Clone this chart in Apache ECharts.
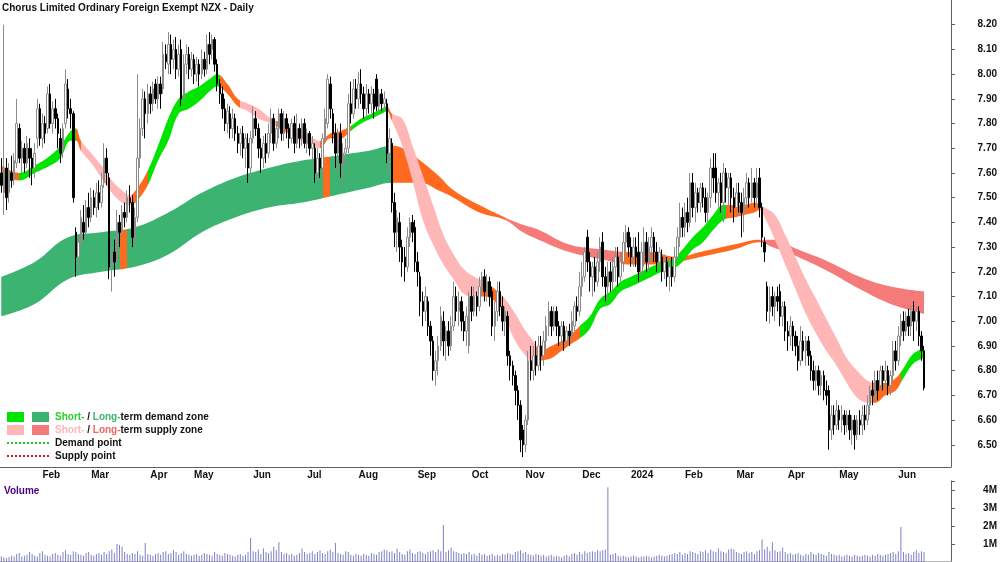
<!DOCTYPE html>
<html>
<head>
<meta charset="utf-8">
<script src="https://cdn.jsdelivr.net/npm/echarts@6/dist/echarts.min.js"></script>
<style>
html, body { margin: 0; padding: 0; background: #fff; }
#chart { width: 1000px; height: 562px; }
</style>
</head>
<body>
<div id="chart"></div>
<script>
// trading calendar (NZX), weekdays minus exchange holidays
const firstDay = '2023-01-10';
const lastDay = '2024-06-18';
const holidays = ['2023-02-06', '2023-04-07', '2023-04-10', '2023-04-25', '2023-06-05', '2023-07-14',
  '2023-10-23', '2023-12-25', '2023-12-26', '2024-01-01', '2024-01-02', '2024-02-06', '2024-03-29',
  '2024-04-01', '2024-04-25', '2024-06-03'];
const emptySlots = 10; // blank space right of the last bar
const monthNames = ['Jan', 'Feb', 'Mar', 'Apr', 'May', 'Jun', 'Jul', 'Aug', 'Sep', 'Oct', 'Nov', 'Dec'];

// daily bars: [open, close, low, high]
const ohlc = [
  [7.60,7.55,7.52,7.66],[7.52,7.62,7.43,8.20],[7.62,7.50,7.45,7.66],[7.52,7.60,7.48,7.64],[7.60,7.57,7.54,7.67],
  [7.58,7.65,7.55,7.68],[7.64,7.80,7.62,7.90],[7.78,7.66,7.64,7.80],[7.66,7.70,7.60,7.73],[7.70,7.64,7.60,7.72],
  [7.64,7.72,7.62,7.75],[7.70,7.66,7.58,7.74],[7.66,7.62,7.55,7.70],[7.62,7.68,7.58,7.72],[7.74,7.86,7.70,7.90],
  [7.86,7.74,7.71,7.88],[7.74,7.80,7.70,7.84],[7.80,7.76,7.72,7.83],[7.78,7.92,7.76,7.95],[7.92,7.80,7.78,7.96],
  [7.80,7.86,7.76,7.89],[7.86,7.82,7.78,7.90],[7.82,7.76,7.70,7.84],[7.74,7.68,7.64,7.78],[7.70,7.78,7.66,7.80],
  [7.80,7.96,7.78,8.02],[7.94,7.86,7.82,7.98],[7.86,7.84,7.78,7.90],[7.84,7.50,7.48,7.85],[7.36,7.26,7.18,7.38],
  [7.26,7.32,7.20,7.35],[7.32,7.42,7.30,7.45],[7.40,7.36,7.33,7.47],[7.36,7.46,7.34,7.49],[7.46,7.42,7.38,7.52],
  [7.42,7.50,7.40,7.54],[7.50,7.46,7.43,7.53],[7.46,7.52,7.42,7.56],[7.52,7.48,7.45,7.57],[7.48,7.55,7.46,7.60],
  [7.56,7.66,7.54,7.72],[7.66,7.60,7.55,7.70],[7.58,7.22,7.17,7.60],[7.22,7.28,7.12,7.32],[7.28,7.24,7.18,7.33],
  [7.25,7.40,7.22,7.45],[7.40,7.36,7.30,7.43],[7.36,7.44,7.34,7.47],[7.44,7.42,7.38,7.48],[7.42,7.50,7.40,7.53],
  [7.50,7.48,7.44,7.55],[7.48,7.34,7.30,7.51],[7.34,7.42,7.30,7.46],[7.42,7.66,7.40,8.00],[7.66,7.78,7.62,7.82],
  [7.78,7.90,7.75,7.94],[7.90,7.84,7.74,7.93],[7.84,7.92,7.80,7.96],[7.92,7.88,7.84,7.95],[7.88,7.94,7.85,7.97],
  [7.96,7.90,7.88,7.98],[7.90,7.96,7.86,7.99],[7.96,7.92,7.86,7.99],[7.94,8.08,7.92,8.13],[8.08,8.05,8.02,8.12],
  [8.04,8.12,8.00,8.17],[8.12,8.06,8.00,8.16],[8.06,8.10,8.02,8.14],[8.10,8.02,7.98,8.15],[8.02,8.08,7.99,8.12],
  [8.10,7.90,7.87,8.14],[7.90,8.04,7.88,8.08],[8.04,8.08,8.00,8.12],[8.08,8.02,7.98,8.11],[8.02,8.06,7.99,8.09],
  [8.06,8.00,7.96,8.08],[8.00,8.04,7.97,8.07],[8.04,8.00,7.95,8.06],[8.00,8.06,7.98,8.10],[8.06,8.02,7.99,8.09],
  [8.02,8.12,8.00,8.16],[8.12,8.08,8.04,8.17],[8.10,8.14,8.06,8.16],[8.14,8.04,8.01,8.15],[8.04,7.96,7.93,8.06],
  [7.96,7.92,7.88,7.98],[7.92,7.86,7.82,7.95],[7.86,7.80,7.77,7.90],[7.80,7.85,7.76,7.88],[7.84,7.78,7.74,7.87],
  [7.78,7.82,7.74,7.86],[7.82,7.76,7.73,7.84],[7.76,7.72,7.68,7.79],[7.72,7.76,7.67,7.78],[7.76,7.70,7.66,7.79],
  [7.70,7.74,7.62,7.76],[7.72,7.62,7.56,7.76],[7.62,7.74,7.58,7.77],[7.74,7.82,7.72,7.87],[7.82,7.78,7.75,7.85],
  [7.78,7.70,7.66,7.80],[7.70,7.66,7.60,7.74],[7.66,7.72,7.62,7.75],[7.72,7.68,7.64,7.76],[7.68,7.76,7.66,7.80],
  [7.76,7.82,7.72,7.86],[7.82,7.72,7.69,7.84],[7.72,7.78,7.70,7.81],[7.78,7.84,7.74,7.86],[7.84,7.76,7.73,7.86],
  [7.76,7.82,7.73,7.85],[7.82,7.78,7.74,7.84],[7.78,7.74,7.70,7.80],[7.74,7.80,7.72,7.82],[7.80,7.72,7.68,7.83],
  [7.72,7.78,7.70,7.84],[7.78,7.74,7.70,7.80],[7.74,7.80,7.71,7.82],[7.80,7.72,7.70,7.82],[7.72,7.76,7.68,7.78],
  [7.76,7.70,7.67,7.77],[7.70,7.72,7.64,7.75],[7.70,7.60,7.56,7.72],[7.60,7.66,7.56,7.70],[7.66,7.62,7.58,7.68],
  [7.62,7.74,7.60,7.76],[7.74,7.82,7.72,7.86],[7.80,7.98,7.78,8.00],[7.96,7.86,7.82,7.99],[7.84,7.76,7.72,7.86],
  [7.76,7.68,7.62,7.80],[7.68,7.74,7.60,7.78],[7.76,7.64,7.58,7.80],[7.64,7.68,7.55,7.72],[7.68,7.70,7.63,7.74],
  [7.70,7.88,7.68,7.92],[7.88,7.84,7.80,7.97],[7.84,7.94,7.82,7.98],[7.94,7.90,7.86,7.98],[7.90,7.96,7.86,8.01],
  [7.96,7.92,7.88,8.02],[7.92,7.86,7.82,7.95],[7.86,7.92,7.82,7.96],[7.92,7.88,7.84,7.94],[7.88,7.92,7.84,7.95],
  [7.92,7.86,7.82,7.94],[7.98,7.87,7.85,8.00],[7.87,7.92,7.84,7.94],[7.92,7.88,7.85,7.94],[7.88,7.90,7.85,7.93],
  [7.88,7.68,7.64,7.90],[7.68,7.74,7.60,7.78],[7.72,7.48,7.44,7.74],[7.48,7.36,7.30,7.52],[7.36,7.42,7.28,7.45],
  [7.40,7.30,7.24,7.44],[7.30,7.24,7.18,7.33],[7.26,7.22,7.16,7.30],[7.22,7.34,7.20,7.38],[7.34,7.40,7.30,7.42],
  [7.40,7.36,7.32,7.43],[7.38,7.24,7.20,7.41],[7.24,7.20,7.14,7.28],[7.18,7.08,7.02,7.20],[7.08,7.04,6.98,7.12],
  [7.04,7.10,7.00,7.14],[7.08,6.98,6.94,7.10],[6.98,6.92,6.86,7.00],[6.92,6.80,6.76,6.94],[6.80,6.84,6.74,6.88],
  [6.84,6.90,6.78,6.94],[6.90,7.02,6.88,7.06],[7.00,6.92,6.86,7.04],[6.92,6.96,6.84,6.98],[6.96,6.90,6.86,7.00],
  [6.90,6.98,6.88,7.02],[6.98,7.10,6.96,7.16],[7.10,7.04,7.00,7.14],[7.04,7.08,6.98,7.12],[7.08,7.00,6.96,7.10],
  [7.00,6.96,6.92,7.04],[6.96,7.02,6.90,7.06],[6.90,7.10,6.87,7.12],[7.10,7.04,7.00,7.14],[7.04,7.10,7.02,7.14],
  [7.10,7.06,7.02,7.12],[7.06,7.14,7.04,7.18],[7.14,7.18,7.10,7.20],[7.18,7.12,7.08,7.21],[7.12,7.16,7.08,7.19],
  [7.16,7.10,7.06,7.18],[7.12,6.98,6.94,7.14],[6.98,7.04,6.92,7.08],[7.04,7.12,7.00,7.16],[7.12,7.06,7.02,7.16],
  [7.06,7.00,6.96,7.10],[7.00,7.04,6.94,7.06],[7.02,6.86,6.82,7.04],[6.86,6.82,6.76,6.88],[6.82,6.78,6.74,6.84],
  [6.78,6.72,6.66,6.80],[6.72,6.66,6.60,6.74],[6.66,6.52,6.47,6.68],[6.56,6.50,6.45,6.58],[6.50,6.60,6.47,6.62],
  [6.60,6.84,6.58,6.88],[6.84,6.80,6.76,6.90],[6.80,6.86,6.76,6.90],[6.86,6.82,6.78,6.92],[6.82,6.90,6.80,6.94],
  [6.90,6.86,6.80,6.94],[6.86,6.92,6.82,6.96],[6.92,6.98,6.88,7.02],[6.98,7.04,6.94,7.08],[7.04,6.98,6.94,7.06],
  [6.98,7.04,6.96,7.06],[7.04,6.98,6.94,7.06],[6.98,6.94,6.90,7.00],[6.94,6.98,6.90,7.00],[6.98,6.92,6.88,7.00],
  [6.92,6.96,6.90,6.98],[6.96,6.94,6.90,6.99],[6.94,7.00,6.92,7.04],[6.98,7.06,6.96,7.08],[7.06,7.04,7.00,7.10],
  [7.04,7.14,7.02,7.20],[7.14,7.18,7.10,7.24],[7.18,7.28,7.16,7.30],[7.34,7.24,7.20,7.37],[7.24,7.18,7.12,7.28],
  [7.18,7.22,7.10,7.24],[7.22,7.16,7.12,7.26],[7.16,7.24,7.14,7.28],[7.24,7.30,7.20,7.34],[7.32,7.18,7.14,7.36],
  [7.18,7.14,7.08,7.22],[7.14,7.20,7.08,7.24],[7.20,7.16,7.12,7.24],[7.16,7.22,7.12,7.26],[7.22,7.26,7.16,7.30],
  [7.26,7.18,7.14,7.30],[7.18,7.24,7.16,7.28],[7.24,7.32,7.20,7.36],[7.32,7.36,7.28,7.39],[7.36,7.30,7.26,7.38],
  [7.30,7.26,7.22,7.34],[7.26,7.30,7.22,7.34],[7.30,7.26,7.22,7.34],[7.28,7.20,7.16,7.36],[7.20,7.28,7.18,7.32],
  [7.28,7.32,7.22,7.38],[7.32,7.24,7.20,7.36],[7.24,7.30,7.20,7.34],[7.30,7.34,7.24,7.38],[7.34,7.28,7.24,7.36],
  [7.28,7.24,7.20,7.32],[7.24,7.28,7.22,7.30],[7.26,7.20,7.16,7.29],[7.20,7.24,7.17,7.27],[7.24,7.18,7.14,7.26],
  [7.18,7.22,7.12,7.25],[7.22,7.18,7.14,7.26],[7.18,7.26,7.16,7.30],[7.26,7.34,7.24,7.38],[7.34,7.42,7.30,7.48],
  [7.42,7.38,7.34,7.46],[7.38,7.44,7.34,7.48],[7.44,7.40,7.36,7.50],[7.40,7.56,7.38,7.60],[7.56,7.46,7.42,7.60],
  [7.46,7.52,7.40,7.56],[7.52,7.48,7.44,7.54],[7.48,7.54,7.44,7.56],[7.54,7.50,7.46,7.56],[7.50,7.44,7.40,7.54],
  [7.44,7.50,7.40,7.52],[7.50,7.62,7.46,7.66],[7.62,7.58,7.52,7.68],[7.62,7.52,7.48,7.68],[7.52,7.56,7.46,7.58],
  [7.56,7.48,7.44,7.60],[7.48,7.60,7.40,7.64],[7.60,7.54,7.48,7.62],[7.54,7.58,7.46,7.60],[7.58,7.50,7.44,7.60],
  [7.50,7.46,7.40,7.54],[7.46,7.52,7.42,7.56],[7.52,7.48,7.44,7.56],[7.48,7.44,7.34,7.52],[7.44,7.50,7.36,7.54],
  [7.50,7.56,7.46,7.60],[7.56,7.50,7.46,7.58],[7.50,7.56,7.48,7.62],[7.56,7.50,7.46,7.58],[7.50,7.56,7.46,7.62],
  [7.58,7.46,7.42,7.62],[7.46,7.34,7.30,7.48],[7.32,7.28,7.24,7.34],[7.14,7.04,7.00,7.16],[7.04,7.10,6.99,7.14],
  [7.10,7.06,7.02,7.14],[7.06,7.10,7.00,7.12],[7.10,7.08,7.04,7.14],[7.12,7.02,6.98,7.15],[7.02,7.06,6.98,7.08],
  [7.06,6.96,6.92,7.08],[6.96,6.94,6.88,7.00],[6.94,6.98,6.90,7.02],[6.98,6.94,6.88,7.00],[6.94,6.90,6.86,6.96],
  [6.90,6.84,6.80,6.94],[6.84,6.92,6.82,6.98],[6.92,6.88,6.84,6.96],[6.88,6.92,6.82,6.94],[6.92,6.86,6.82,6.94],
  [6.86,6.80,6.76,6.88],[6.80,6.76,6.72,6.84],[6.76,6.80,6.72,6.82],[6.80,6.74,6.70,6.82],[6.74,6.78,6.70,6.80],
  [6.78,6.72,6.68,6.80],[6.72,6.70,6.66,6.76],[6.72,6.56,6.48,6.74],[6.56,6.62,6.52,6.66],[6.62,6.58,6.54,6.66],
  [6.58,6.64,6.56,6.68],[6.64,6.60,6.56,6.66],[6.60,6.62,6.55,6.66],[6.62,6.58,6.54,6.64],[6.58,6.62,6.55,6.64],
  [6.62,6.56,6.52,6.64],[6.56,6.60,6.50,6.62],[6.60,6.54,6.48,6.62],[6.54,6.60,6.52,6.62],[6.60,6.58,6.54,6.64],
  [6.58,6.62,6.54,6.66],[6.62,6.60,6.56,6.66],[6.60,6.66,6.58,6.70],[6.66,6.72,6.62,6.74],[6.72,6.70,6.66,6.76],
  [6.70,6.76,6.68,6.80],[6.76,6.72,6.68,6.80],[6.74,6.80,6.72,6.82],[6.80,6.76,6.72,6.82],[6.76,6.80,6.72,6.84],
  [6.80,6.74,6.70,6.82],[6.74,6.78,6.70,6.80],[6.78,6.88,6.76,6.92],[6.88,6.84,6.80,6.92],[6.84,6.94,6.82,6.98],
  [6.94,7.00,6.90,7.03],[7.00,6.96,6.92,7.04],[6.96,7.02,6.94,7.04],[7.02,6.98,6.94,7.05],[6.98,7.04,6.94,7.06],
  [7.04,7.00,6.92,7.08],[7.00,7.04,6.96,7.06],[7.04,6.94,6.90,7.06],[6.94,6.88,6.84,6.96],[6.88,6.73,6.72,6.90]
];

// daily volume, millions of shares
const volume = [
  0.30,0.25,0.22,0.28,0.35,0.30,0.45,0.50,0.30,0.35, 0.40,0.55,0.45,0.35,0.30,0.50,0.60,0.40,0.35,0.30,
  0.45,0.50,0.40,0.35,0.55,0.65,0.45,0.40,0.60,0.55, 0.45,0.40,0.35,0.50,0.55,0.40,0.35,0.45,0.50,0.40,
  0.55,0.45,0.60,0.70,0.50,1.00,0.95,0.85,0.55,0.45, 0.40,0.50,0.45,0.60,0.40,0.35,1.05,0.45,0.40,0.35,
  0.45,0.50,0.40,0.55,0.60,0.45,0.50,0.65,0.55,0.40, 0.50,0.60,0.45,0.40,0.35,0.40,0.45,0.35,0.40,0.50,
  0.45,0.40,0.35,0.55,0.45,0.40,0.35,0.50,0.45,0.40, 0.35,0.30,0.40,0.45,0.35,0.40,0.55,1.33,0.60,0.55,
  0.70,0.45,0.75,0.55,0.50,0.60,0.85,0.65,1.10,0.55, 0.45,0.50,0.40,0.45,0.35,0.40,0.50,0.75,0.55,0.45,
  0.50,0.60,0.45,0.55,0.65,0.50,0.45,0.60,0.70,0.55, 1.05,0.50,0.45,0.40,0.60,0.55,0.40,0.35,0.45,0.40,
  0.35,0.45,0.40,0.35,0.50,0.45,0.40,0.55,0.60,0.70, 0.65,0.55,0.60,0.50,0.75,0.55,0.45,0.40,0.60,0.70,
  0.50,0.45,0.55,0.60,0.50,0.45,0.55,0.60,0.65,0.55, 0.70,0.60,2.05,0.55,0.65,0.80,0.60,0.55,0.50,0.45,
  0.50,0.45,0.55,0.40,0.45,0.35,0.50,0.40,0.45,0.35, 0.40,0.45,0.35,0.40,0.35,0.45,0.40,0.50,0.45,0.40,
  0.55,0.60,0.65,0.50,0.55,0.45,0.40,0.35,0.45,0.40, 0.35,0.40,0.30,0.35,0.40,0.30,0.35,0.30,0.25,0.35,
  0.40,0.30,0.45,0.50,0.40,0.55,0.45,0.60,0.50,0.55, 0.60,0.55,0.65,0.60,0.65,0.70,4.15,0.40,0.45,0.50,
  0.35,0.30,0.35,0.30,0.25,0.30,0.35,0.30,0.25,0.30, 0.30,0.35,0.30,0.25,0.30,0.35,0.40,0.35,0.30,0.35,
  0.40,0.45,0.50,0.45,0.55,0.40,0.50,0.45,0.60,0.55, 0.50,0.45,0.60,0.55,0.65,0.50,0.70,0.60,0.55,0.75,
  0.60,0.55,0.50,0.70,0.75,0.70,0.55,0.50,0.45,0.55, 0.60,0.50,0.55,0.45,0.60,0.65,1.25,0.70,0.85,0.60,
  1.10,0.65,0.55,0.60,0.80,0.55,0.45,0.50,0.40,0.45, 0.50,0.40,0.35,0.45,0.40,0.55,0.45,0.40,0.50,0.45,
  0.40,0.35,0.55,0.45,0.40,0.35,0.40,0.30,0.35,0.40, 0.35,0.30,0.40,0.35,0.30,0.35,0.40,0.35,0.30,0.40,
  0.35,0.45,0.40,0.35,0.40,0.45,0.50,0.55,0.45,0.60, 1.95,0.55,0.45,0.50,0.40,0.55,0.65,0.50,0.60,0.55
];

// short-term zone band, read at sample days
const shortDay = [0,7,13,19,23,27,29,31,35,39,43,47,50,53,57,61,65,69,73,77,81,84,88,92,96,100,105,110,115,120,
  124,128,132,136,140,144,148,150,152,156,160,164,168,172,176,180,184,188,192,196,200,204,207,210,214,218,222,225,
  229,233,237,241,245,249,253,257,261,265,269,273,277,281,285,289,293,295,297,301,305,309,313,317,321,325,329,333,
  337,340,344,348,351,355,359];
const shortUpper = [7.63,7.60,7.63,7.67,7.71,7.77,7.78,7.73,7.68,7.63,7.57,7.53,7.51,7.54,7.61,7.71,7.82,7.90,7.93,
  7.95,7.98,8.00,7.96,7.90,7.88,7.86,7.82,7.80,7.78,7.75,7.73,7.76,7.77,7.79,7.82,7.84,7.86,7.87,7.84,7.82,7.71,
  7.59,7.47,7.35,7.27,7.21,7.18,7.16,7.13,7.09,7.03,6.96,6.92,6.88,6.90,6.92,6.95,6.98,7.02,7.09,7.12,7.16,7.18,
  7.20,7.22,7.24,7.25,7.29,7.34,7.38,7.43,7.47,7.47,7.47,7.48,7.47,7.46,7.43,7.35,7.26,7.17,7.09,7.01,6.93,6.85,
  6.80,6.76,6.75,6.75,6.77,6.81,6.87,6.89];
const shortLower = [7.58,7.57,7.60,7.63,7.66,7.73,7.73,7.69,7.64,7.58,7.52,7.48,7.47,7.49,7.55,7.65,7.73,7.84,7.86,
  7.89,7.93,7.95,7.92,7.87,7.85,7.82,7.80,7.77,7.74,7.71,7.70,7.74,7.74,7.77,7.80,7.82,7.84,7.85,7.81,7.71,7.57,
  7.41,7.31,7.23,7.17,7.11,7.10,7.10,7.08,7.01,6.92,6.86,6.83,6.84,6.85,6.88,6.91,6.93,6.97,7.05,7.07,7.12,7.14,
  7.16,7.18,7.20,7.21,7.24,7.29,7.32,7.37,7.41,7.42,7.43,7.44,7.45,7.42,7.33,7.23,7.13,7.03,6.95,6.88,6.82,6.75,
  6.69,6.67,6.67,6.70,6.72,6.77,6.83,6.85];

// long-term zone band, read at sample days
const longDay = [0,13,26,39,52,65,78,91,104,117,130,143,152,158,163,170,176,186,196,203,209,221,234,244,252,263,
  272,285,295,300,310,322,334,346,359];
const longUpper = [7.18,7.24,7.34,7.36,7.38,7.44,7.52,7.58,7.62,7.65,7.67,7.69,7.71,7.69,7.65,7.59,7.53,7.47,7.42,
  7.39,7.37,7.31,7.29,7.28,7.28,7.26,7.28,7.31,7.33,7.33,7.29,7.24,7.18,7.14,7.12];
const longLower = [7.02,7.07,7.17,7.20,7.22,7.27,7.36,7.42,7.46,7.48,7.51,7.54,7.56,7.56,7.56,7.53,7.50,7.44,7.41,
  7.36,7.33,7.28,7.25,7.23,7.23,7.24,7.26,7.29,7.32,7.30,7.26,7.20,7.13,7.07,7.03];

// zone state from a given day on
const shortZones = [[0,'turn'],[7,'demand'],[28.5,'turn'],[31,'supply'],[50.5,'turn'],[57,'demand'],[84.5,'turn'],
  [93,'supply'],[107,'turn'],[112,'supply'],[124,'turn'],[136,'demand'],[149.5,'turn'],[151.5,'supply'],[187,'turn'],
  [194,'supply'],[208,'turn'],[224.5,'demand'],[282,'turn'],[295,'supply'],[339,'turn'],[350,'demand']];
const longZones = [[0,'demand'],[45.5,'turn'],[48.5,'demand'],[124.5,'turn'],[127.5,'demand'],[152,'turn'],
  [196,'supply'],[241,'turn'],[295,'supply']];

const shortColors = { demand: '#00e400', supply: '#ffb6b6', turn: '#ff6a1e' };
const longColors = { demand: '#3cb371', supply: '#f57a7a', turn: '#ff6a1e' };

// build category axis
const dates = [];
const d = new Date(firstDay + 'T00:00:00Z');
const end = new Date(lastDay + 'T00:00:00Z');
while (d <= end) {
  const s = d.toISOString().slice(0, 10);
  const wd = d.getUTCDay();
  if (wd !== 0 && wd !== 6 && holidays.indexOf(s) < 0) dates.push(s);
  d.setUTCDate(d.getUTCDate() + 1);
}
for (let i = 0; i < emptySlots; i++) dates.push('');

const monthStart = dates.map((s, i) => i > 0 && s !== '' && s.slice(0, 7) !== dates[i - 1].slice(0, 7));
const isMonthStart = (index) => monthStart[index];

const pairs = (days, vals) => days.map((day, i) => [day, vals[i]]);
const diffs = (days, up, lo) => days.map((day, i) => [day, +(up[i] - lo[i]).toFixed(3)]);
const pieces = (zones, colors) => zones.map((z, i) => ({
  gte: z[0], lt: i + 1 < zones.length ? zones[i + 1][0] : 10000, color: colors[z[1]]
}));

const bandSeries = (name, stack, days, up, lo) => [
  {
    name: name + 'Base', type: 'line', stack: stack, data: pairs(days, lo), smooth: 0.4,
    symbol: 'none', lineStyle: { width: 0, opacity: 0 }, silent: true, z: 1
  },
  {
    name: name, type: 'line', stack: stack, data: diffs(days, up, lo), smooth: 0.4,
    symbol: 'none', lineStyle: { width: 0 }, areaStyle: { opacity: 1 }, silent: true, z: 1
  }
];

const font = '"Liberation Sans", Arial, sans-serif';

const chart = echarts.init(document.getElementById('chart'));
chart.setOption({
  animation: false,
  backgroundColor: '#ffffff',
  grid: [
    { left: 0, right: 48, top: 0, height: 467 },
    { left: 0, right: 48, top: 481, height: 81 }
  ],
  xAxis: [
    {
      type: 'category', gridIndex: 0, data: dates, boundaryGap: true,
      axisLine: { lineStyle: { color: '#606060', width: 1 } },
      axisTick: { interval: isMonthStart, length: 5, lineStyle: { color: '#606060' } },
      axisLabel: {
        interval: isMonthStart, align: 'left', margin: 3,
        fontFamily: font, fontSize: 10, fontWeight: 'bold', color: '#111',
        formatter: (v) => {
          const m = +v.slice(5, 7);
          return m === 1 ? v.slice(0, 4) : monthNames[m - 1];
        }
      },
      splitLine: { show: false }
    },
    {
      type: 'category', gridIndex: 1, data: dates, boundaryGap: true, position: 'top',
      axisLine: { lineStyle: { color: '#b4b4b4', width: 2 } },
      axisTick: { show: false }, axisLabel: { show: false }, splitLine: { show: false }
    }
  ],
  yAxis: [
    {
      type: 'value', gridIndex: 0, position: 'right', min: 6.41, max: 8.30, splitNumber: 19,
      axisLine: { show: true, lineStyle: { color: '#606060' } },
      axisTick: { show: true, length: 4, lineStyle: { color: '#606060' } },
      axisLabel: {
        showMinLabel: false, showMaxLabel: false, align: 'right', margin: 46,
        fontFamily: font, fontSize: 10, fontWeight: 'bold', color: '#111',
        formatter: (v) => v.toFixed(2)
      },
      splitLine: { show: false }
    },
    {
      type: 'value', gridIndex: 1, position: 'right', min: 0, max: 4.5, interval: 1,
      axisLine: { show: true, lineStyle: { color: '#606060' } },
      axisTick: { show: true, length: 4, lineStyle: { color: '#606060' } },
      axisLabel: {
        align: 'right', margin: 46,
        fontFamily: font, fontSize: 10, fontWeight: 'bold', color: '#111',
        formatter: (v) => (v > 0 && Number.isInteger(v) ? v + 'M' : '')
      },
      splitLine: { show: false }
    }
  ],
  visualMap: [
    { type: 'piecewise', show: false, seriesIndex: 1, dimension: 0, pieces: pieces(longZones, longColors) },
    { type: 'piecewise', show: false, seriesIndex: 3, dimension: 0, pieces: pieces(shortZones, shortColors) }
  ],
  series: [
    ...bandSeries('long', 'longBand', longDay, longUpper, longLower),
    ...bandSeries('short', 'shortBand', shortDay, shortUpper, shortLower),
    {
      name: 'price', type: 'candlestick', data: ohlc, barWidth: 2, z: 5,
      itemStyle: { color: '#ffffff', color0: '#000000', borderColor: '#8c8c8c', borderColor0: '#000000', borderWidth: 1 }
    },
    {
      name: 'volume', type: 'bar', xAxisIndex: 1, yAxisIndex: 1, data: volume, barWidth: 1,
      itemStyle: { color: '#8080c4' }
    }
  ],
  graphic: [
    { type: 'text', x: 2, y: 8, style: { text: 'Chorus Limited Ordinary Foreign Exempt NZX - Daily', fill: '#111',
      fontFamily: font, fontSize: 10, fontWeight: 'bold', verticalAlign: 'middle' } },
    { type: 'text', x: 4, y: 491, style: { text: 'Volume', fill: '#4b0082',
      fontFamily: font, fontSize: 10, fontWeight: 'bold', verticalAlign: 'middle' } },
    { type: 'rect', shape: { x: 7, y: 412, width: 17, height: 10 }, style: { fill: shortColors.demand } },
    { type: 'rect', shape: { x: 32, y: 412, width: 17, height: 10 }, style: { fill: longColors.demand } },
    { type: 'rect', shape: { x: 7, y: 425, width: 17, height: 10 }, style: { fill: shortColors.supply } },
    { type: 'rect', shape: { x: 32, y: 425, width: 17, height: 10 }, style: { fill: longColors.supply } },
    { type: 'line', shape: { x1: 7, y1: 443, x2: 49, y2: 443 }, style: { stroke: '#22c822', lineWidth: 2, lineDash: [2, 2] } },
    { type: 'line', shape: { x1: 7, y1: 456, x2: 49, y2: 456 }, style: { stroke: '#d81818', lineWidth: 2, lineDash: [2, 2] } },
    { type: 'text', x: 55, y: 417, style: {
      text: '{a|Short-} / {b|Long-}term demand zone', fill: '#111', fontFamily: font, fontSize: 10, fontWeight: 'bold',
      verticalAlign: 'middle',
      rich: { a: { fill: '#2ccc2c', fontFamily: font, fontSize: 10, fontWeight: 'bold' },
              b: { fill: '#3cb371', fontFamily: font, fontSize: 10, fontWeight: 'bold' } } } },
    { type: 'text', x: 55, y: 430, style: {
      text: '{a|Short-} / {b|Long-}term supply zone', fill: '#111', fontFamily: font, fontSize: 10, fontWeight: 'bold',
      verticalAlign: 'middle',
      rich: { a: { fill: '#ffb6b6', fontFamily: font, fontSize: 10, fontWeight: 'bold' },
              b: { fill: '#f06464', fontFamily: font, fontSize: 10, fontWeight: 'bold' } } } },
    { type: 'text', x: 55, y: 443, style: { text: 'Demand point', fill: '#111',
      fontFamily: font, fontSize: 10, fontWeight: 'bold', verticalAlign: 'middle' } },
    { type: 'text', x: 55, y: 456, style: { text: 'Supply point', fill: '#111',
      fontFamily: font, fontSize: 10, fontWeight: 'bold', verticalAlign: 'middle' } }
  ]
});
</script>
</body>
</html>
